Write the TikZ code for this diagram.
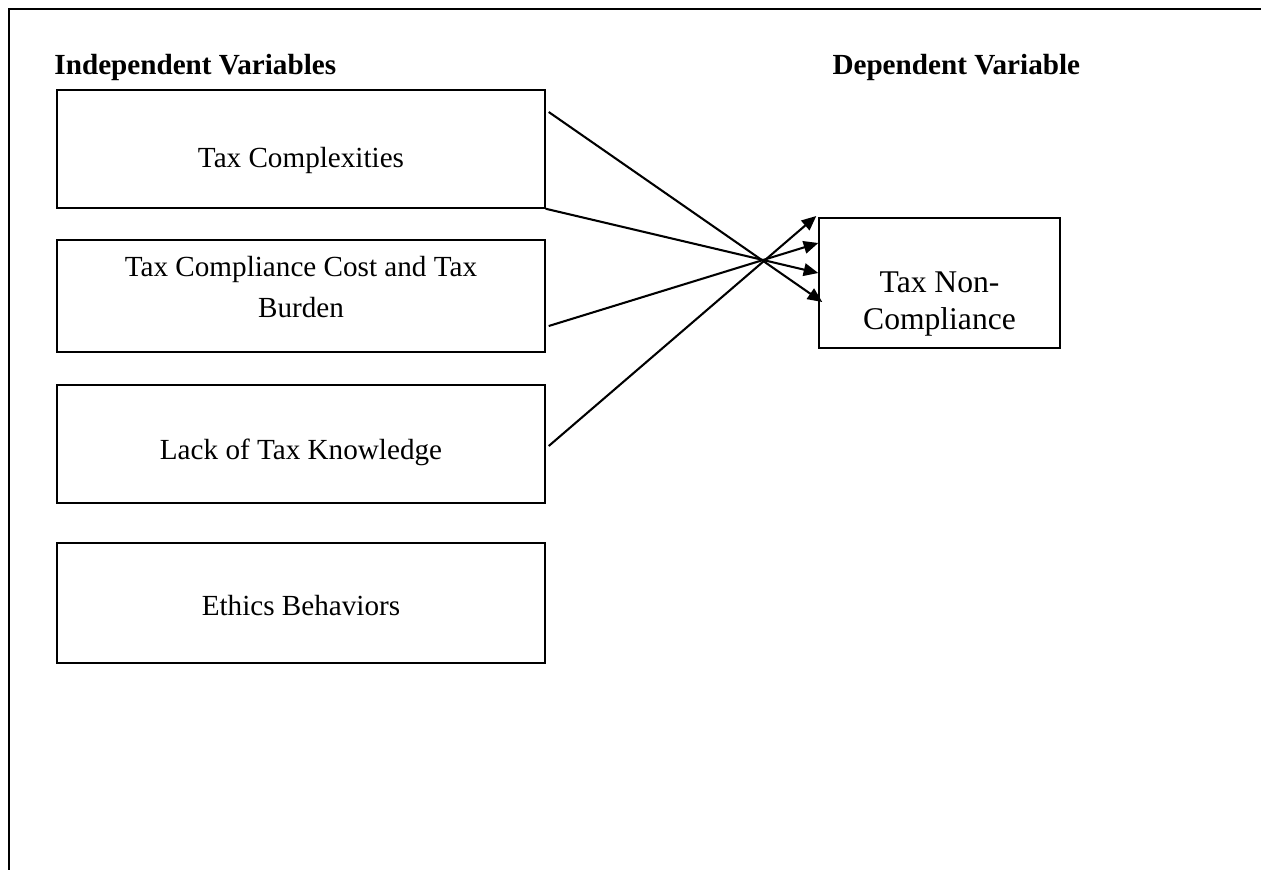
\documentclass[tikz,border=0pt]{standalone}
\usepackage{fontspec}
\setmainfont{Liberation Serif}
\usetikzlibrary{arrows.meta}

\begin{document}
\begin{tikzpicture}[
  x=0.4115pt, y=-0.4115pt,
  frameline/.style={line width=0.85pt, line cap=rect},
  varbox/.style={draw, line width=0.6pt, inner sep=0pt, minimum width=200.8pt, anchor=center},
  boxtext/.style={align=center, inner sep=0pt, font=\fontsize{12}{16.5}\selectfont},
  bigtext/.style={align=center, inner sep=0pt, font=\fontsize{13}{15.3}\selectfont},
  heading/.style={anchor=base west, inner sep=0pt, font=\fontsize{12}{14}\selectfont\bfseries},
  link/.style={line width=0.85pt, -{Triangle[length=6pt, width=5.2pt]}}
]
\useasboundingbox (0,0) rectangle (1261,869);

% outer frame, open to the right and bottom
\draw[frameline] (1261,9) -- (9,9) -- (9,869);

% headings
\node[heading] (hind) at (54,74) {Independent Variables};
\node[heading] (hdep) at (832,74) {Dependent Variable};

% independent variable boxes
\node[varbox, minimum height=48.56pt] (c1) at (301,149) {};
\node[boxtext] (c1t) at (301,160) {Tax Complexities};

\node[varbox, minimum height=46.09pt] (c2) at (301,296) {};
\node[boxtext] (c2t) at (301,287) {Tax Compliance Cost and Tax\\Burden};

\node[varbox, minimum height=48.56pt] (c3) at (301,444) {};
\node[boxtext] (c3t) at (301,452) {Lack of Tax Knowledge};

\node[varbox, minimum height=49.38pt] (c4) at (301,603) {};
\node[boxtext] (c4t) at (301,606) {Ethics Behaviors};

% dependent variable box
\node[draw, line width=0.6pt, inner sep=0pt, minimum width=99.17pt, minimum height=53.5pt] (dv) at (939.5,283) {};
\node[bigtext] (dvt) at (939.5,304) {Tax Non-\\Compliance};

% crossing connectors
\draw[link] ([shift={(3,-37)}]c1.east) -- ([shift={(4,19)}]dv.west);
\draw[link] (c1.south east) -- ([shift={(0,-10)}]dv.west);
\draw[link] ([shift={(3,30)}]c2.east) -- ([shift={(0,-40)}]dv.west);
\draw[link] ([shift={(3,2)}]c3.east) -- ([shift={(-2,-67)}]dv.west);
\end{tikzpicture}
\end{document}
